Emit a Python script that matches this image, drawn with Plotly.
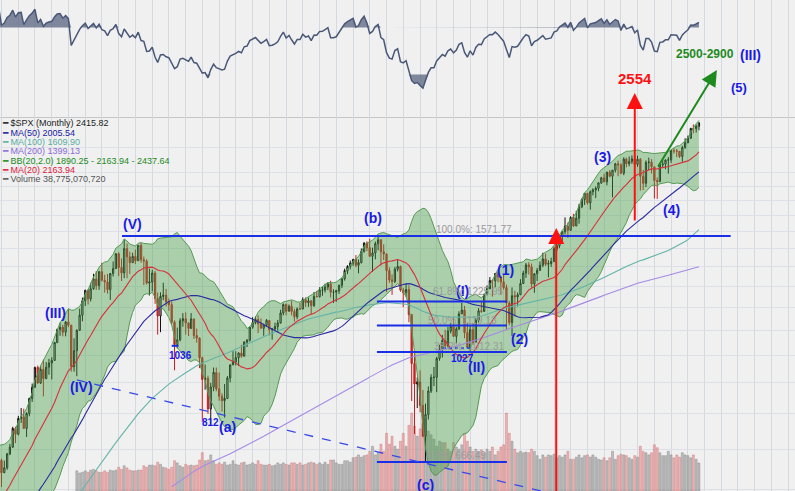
import math
import numpy as np
import pandas as pd
import plotly.graph_objects as go

# ---------------- data ----------------
# monthly closes before the visible window (Jan 1985 - May 1996), used for indicator warm-up
pre_close = [
    179.6, 181.2, 180.7, 179.8, 189.6, 191.9, 190.9, 188.6, 182.1, 189.8, 202.2, 211.3,
    211.8, 226.9, 238.9, 235.5, 247.4, 250.8, 236.1, 252.9, 231.3, 244.0, 249.2, 242.2,
    274.1, 284.2, 291.7, 288.4, 290.1, 304.0, 318.7, 329.8, 321.8, 251.8, 230.3, 247.1,
    257.1, 267.8, 258.9, 261.3, 262.2, 273.5, 272.0, 261.5, 271.9, 279.0, 273.7, 277.7,
    297.5, 288.9, 294.9, 309.6, 320.5, 318.0, 346.1, 351.5, 349.2, 340.4, 346.0, 353.4,
    329.1, 331.9, 339.9, 330.8, 361.2, 358.0, 356.2, 322.6, 306.1, 304.0, 322.2, 330.2,
    343.9, 367.1, 375.2, 375.3, 389.8, 371.2, 387.8, 395.4, 387.9, 392.5, 375.2, 417.1,
    408.8, 412.7, 403.7, 415.0, 415.4, 408.1, 424.2, 414.0, 417.8, 418.7, 431.4, 435.7,
    438.8, 443.4, 451.7, 440.2, 450.2, 450.5, 448.1, 463.6, 458.9, 467.8, 461.8, 466.5,
    481.6, 467.1, 445.8, 450.9, 456.5, 444.3, 458.3, 475.5, 462.7, 472.4, 453.7, 459.3,
    470.4, 487.4, 500.7, 514.7, 533.4, 544.8, 562.1, 561.9, 584.4, 581.5, 605.4, 615.9,
    636.0, 640.4, 645.5, 654.2, 669.1,
]

# visible months Jun 1996 - May 2017
close = [
    670.63, 639.95, 651.99, 687.33, 705.27, 757.02, 740.74,
    786.16, 790.82, 757.12, 801.34, 848.28, 885.14, 954.29, 899.47, 947.28, 914.62, 955.40, 970.43,
    980.28, 1049.34, 1101.75, 1111.75, 1090.82, 1133.84, 1120.67, 957.28, 1017.01, 1098.67, 1163.63, 1229.23,
    1279.64, 1238.33, 1286.37, 1335.18, 1301.84, 1372.71, 1328.72, 1320.41, 1282.71, 1362.93, 1388.91, 1469.25,
    1394.46, 1366.42, 1498.58, 1452.43, 1420.60, 1454.60, 1430.83, 1517.68, 1436.51, 1429.40, 1314.95, 1320.28,
    1366.01, 1239.94, 1160.33, 1249.46, 1255.82, 1224.42, 1211.23, 1133.58, 1040.94, 1059.78, 1139.45, 1148.08,
    1130.20, 1106.73, 1147.39, 1076.92, 1067.14, 989.82, 911.62, 916.07, 815.28, 885.76, 936.31, 879.82,
    855.70, 841.15, 848.18, 916.92, 963.59, 974.50, 990.31, 1008.01, 995.97, 1050.71, 1058.20, 1111.92,
    1131.13, 1144.94, 1126.21, 1107.30, 1120.68, 1140.84, 1101.72, 1104.24, 1114.58, 1130.20, 1173.82, 1211.92,
    1181.27, 1203.60, 1180.59, 1156.85, 1191.50, 1191.33, 1234.18, 1220.33, 1228.81, 1207.01, 1249.48, 1248.29,
    1280.08, 1280.66, 1294.83, 1310.61, 1270.09, 1270.20, 1276.66, 1303.82, 1335.85, 1377.94, 1400.63, 1418.30,
    1438.24, 1406.82, 1420.86, 1482.37, 1530.62, 1503.35, 1455.27, 1473.99, 1526.75, 1549.38, 1481.14, 1468.36,
    1378.55, 1330.63, 1322.70, 1385.59, 1400.38, 1280.00, 1267.38, 1282.83, 1166.36, 968.75, 896.24, 903.25,
    825.88, 735.09, 797.87, 872.81, 919.14, 919.32, 987.48, 1020.62, 1057.08, 1036.19, 1095.63, 1115.10,
    1073.87, 1104.49, 1169.43, 1186.69, 1089.41, 1030.71, 1101.60, 1049.33, 1141.20, 1183.26, 1180.55, 1257.64,
    1286.12, 1327.22, 1325.83, 1363.61, 1345.20, 1320.64, 1292.28, 1218.89, 1131.42, 1253.30, 1246.96, 1257.60,
    1312.41, 1365.68, 1408.47, 1397.91, 1310.33, 1362.16, 1379.32, 1406.58, 1440.67, 1412.16, 1416.18, 1426.19,
    1498.11, 1514.68, 1569.19, 1597.57, 1630.74, 1606.28, 1685.73, 1632.97, 1681.55, 1756.54, 1805.81, 1848.36,
    1782.59, 1859.45, 1872.34, 1883.95, 1923.57, 1960.23, 1930.67, 2003.37, 1972.29, 2018.05, 2067.56, 2058.90,
    1994.99, 2104.50, 2067.89, 2085.51, 2107.39, 2063.11, 2103.84, 1972.18, 1920.03, 2079.36, 2080.41, 2043.94,
    1940.24, 1932.23, 2059.74, 2065.30, 2096.95, 2098.86, 2173.60, 2170.95, 2168.27, 2126.15, 2198.81, 2238.83,
    2278.87, 2363.64, 2362.72, 2384.20, 2415.82,
]
high = [
    673, 675, 670, 690, 714, 762, 762,
    794, 818, 816, 805, 851, 898, 957, 961, 960, 983, 974, 986,
    992, 1051, 1106, 1131, 1122, 1138, 1190, 1121, 1066, 1103, 1193, 1244,
    1280, 1284, 1316, 1362, 1376, 1377, 1420, 1357, 1361, 1366, 1427, 1473,
    1478, 1444, 1553, 1528, 1481, 1475, 1493, 1518, 1530, 1454, 1439, 1389,
    1383, 1377, 1268, 1269, 1316, 1286, 1240, 1226, 1141, 1110, 1151, 1173,
    1176, 1130, 1173, 1147, 1106, 1070, 994, 965, 925, 900, 954, 954,
    936, 865, 896, 924, 965, 1015, 1015, 1011, 1040, 1054, 1063, 1112,
    1155, 1159, 1163, 1150, 1127, 1147, 1141, 1109, 1131, 1143, 1188, 1217,
    1217, 1212, 1229, 1192, 1199, 1219, 1245, 1245, 1244, 1233, 1271, 1276,
    1294, 1297, 1311, 1319, 1326, 1284, 1282, 1306, 1340, 1389, 1407, 1432,
    1441, 1462, 1438, 1499, 1535, 1540, 1556, 1504, 1539, 1576, 1553, 1523,
    1471, 1396, 1359, 1397, 1440, 1405, 1292, 1313, 1303, 1167, 1007, 919,
    944, 876, 832, 888, 930, 956, 993, 1040, 1080, 1101, 1113, 1130,
    1150, 1112, 1181, 1220, 1206, 1131, 1120, 1130, 1151, 1196, 1228, 1263,
    1303, 1345, 1333, 1365, 1371, 1347, 1357, 1307, 1229, 1293, 1277, 1269,
    1334, 1378, 1419, 1423, 1416, 1363, 1392, 1427, 1475, 1470, 1434, 1448,
    1510, 1530, 1570, 1598, 1687, 1654, 1694, 1710, 1730, 1776, 1814, 1849,
    1851, 1868, 1884, 1897, 1926, 1968, 1991, 2005, 2019, 2019, 2075, 2093,
    2072, 2120, 2117, 2126, 2135, 2130, 2133, 2113, 2021, 2094, 2117, 2105,
    2044, 1963, 2073, 2112, 2103, 2121, 2178, 2194, 2188, 2170, 2214, 2278,
    2301, 2371, 2401, 2399, 2418,
]
low = [
    658, 606, 639, 647, 684, 703, 716,
    737, 773, 756, 733, 793, 837, 884, 897, 896, 855, 913, 928,
    912, 979, 1046, 1076, 1074, 1074, 1112, 939, 939, 923, 1097, 1137,
    1205, 1212, 1226, 1282, 1281, 1281, 1323, 1268, 1263, 1233, 1348, 1387,
    1350, 1325, 1339, 1339, 1361, 1420, 1413, 1430, 1420, 1305, 1307, 1254,
    1274, 1215, 1081, 1091, 1232, 1203, 1183, 1124, 944, 1026, 1054, 1114,
    1081, 1075, 1106, 1063, 1048, 952, 776, 877, 800, 768, 872, 872,
    841, 807, 789, 847, 902, 963, 962, 960, 990, 995, 1031, 1053,
    1105, 1124, 1087, 1107, 1076, 1113, 1078, 1060, 1099, 1090, 1127, 1163,
    1163, 1180, 1163, 1136, 1146, 1188, 1191, 1201, 1201, 1168, 1201, 1246,
    1245, 1253, 1268, 1280, 1245, 1219, 1224, 1261, 1290, 1327, 1360, 1385,
    1403, 1396, 1364, 1416, 1476, 1484, 1454, 1371, 1439, 1489, 1406, 1435,
    1271, 1316, 1257, 1315, 1374, 1272, 1200, 1248, 1133, 840, 741, 818,
    805, 734, 667, 783, 866, 889, 869, 979, 991, 1030, 1029, 1086,
    1071, 1045, 1101, 1170, 1066, 1029, 1011, 1040, 1048, 1132, 1174, 1187,
    1257, 1303, 1249, 1295, 1318, 1258, 1282, 1101, 1120, 1075, 1158, 1203,
    1258, 1312, 1341, 1358, 1292, 1267, 1325, 1378, 1396, 1403, 1343, 1398,
    1426, 1485, 1501, 1536, 1581, 1560, 1605, 1627, 1633, 1647, 1747, 1768,
    1771, 1737, 1834, 1815, 1863, 1915, 1930, 1905, 1964, 1821, 2001, 1972,
    1988, 1980, 2040, 2048, 2067, 2056, 2044, 1867, 1872, 1893, 2019, 1993,
    1812, 1810, 1937, 2039, 2025, 1992, 2075, 2148, 2120, 2114, 2084, 2188,
    2245, 2271, 2322, 2328, 2348,
]
# monthly volume (billions), Oct 1998 - May 2017
volume = [
    28, 25, 26,
    28, 26, 29, 30, 28, 26, 26, 28, 26, 29, 28, 29,
    33, 30, 35, 32, 29, 28, 28, 29, 29, 35, 33, 36,
    36, 35, 40, 37, 33, 32, 30, 33, 42, 39, 35, 33,
    37, 35, 36, 35, 36, 43, 53, 42, 43, 50, 42, 37,
    39, 37, 40, 36, 37, 42, 37, 36, 39, 40, 36, 37,
    39, 37, 42, 37, 36, 36, 37, 35, 36, 39, 37, 39,
    37, 36, 39, 39, 37, 39, 36, 37, 39, 40, 39, 37,
    39, 37, 40, 37, 43, 43, 39, 37, 37, 42, 42, 40,
    46, 47, 50, 47, 49, 50, 55, 62, 50, 53, 65, 55,
    80, 65, 76, 62, 58, 69, 80, 62, 91, 108, 90, 76,
    86, 94, 100, 83, 78, 72, 62, 69, 67, 67, 58, 55,
    67, 61, 58, 64, 80, 69, 61, 55, 58, 55, 57, 53,
    58, 55, 61, 50, 55, 61, 64, 108, 80, 69, 58, 53,
    55, 53, 54, 53, 58, 55, 49, 44, 50, 47, 50, 49,
    51, 46, 49, 47, 50, 55, 44, 44, 47, 50, 46, 49,
    50, 47, 50, 47, 44, 43, 46, 42, 46, 55, 44, 49,
    51, 50, 49, 46, 44, 49, 47, 62, 55, 53, 50, 53,
    64, 60, 53, 49, 49, 55, 50, 46, 50, 47, 53, 50,
    49, 46, 50, 44, 38.8,
]

legend_lines = [
    ("$SPX (Monthly) 2415.82", "#222222"),
    ("MA(50) 2005.54", "#2020a0"),
    ("MA(100) 1609.90", "#5aaea0"),
    ("MA(200) 1399.13", "#8a6ad8"),
    ("BB(20,2.0) 1890.25 - 2163.94 - 2437.64", "#218a21"),
    ("MA(20) 2163.94", "#e0203c"),
    ("Volume 38,775,070,720", "#555555"),
]

fib_levels = [1571.77, 1225.95, 1119.13, 1012.31, 666.49]
fib_texts = ["100.0%: 1571.77", "61.8%: 1225.95", "50.0%: 1119.13", "38.2%: 1012.31", "0.0%: 666.49"]

# ---------------- derived series ----------------
n_pre = len(pre_close)
dates = pd.date_range("1996-06-01", periods=len(close), freq="MS")
full = pd.Series(pre_close + close, dtype=float)
opens = [pre_close[-1]] + close[:-1]

def sma(n):
    return full.rolling(n).mean().iloc[n_pre:].values

ma20 = sma(20)
ma50 = sma(50)
ma100 = sma(100)
ma200 = sma(200)
sd20 = full.rolling(20).std(ddof=0).iloc[n_pre:].values
bb_up = ma20 + 2 * sd20
bb_lo = ma20 - 2 * sd20

# RSI(14), Wilder smoothing
d = np.diff(np.array(pre_close + close, dtype=float))
g = np.where(d > 0, d, 0.0)
l = np.where(d < 0, -d, 0.0)
ag = g[:14].mean(); al = l[:14].mean()
rsi_full = [np.nan] * 15
for i in range(14, len(d)):
    ag = (ag * 13 + g[i]) / 14
    al = (al * 13 + l[i]) / 14
    rsi_full.append(100 - 100 / (1 + ag / al))
rsi = np.array(rsi_full)[n_pre:]

vdates = pd.date_range("1998-10-01", periods=len(volume), freq="MS")
vclose = close[-len(volume):]
vprev = close[-len(volume) - 1:-1]
vcol = ["rgba(232,140,140,0.6)" if c < p else "rgba(160,160,160,0.65)" for c, p in zip(vclose, vprev)]
vline = ["rgba(200,100,100,0.6)" if c < p else "rgba(120,120,120,0.6)" for c, p in zip(vclose, vprev)]

# ---------------- figure ----------------
L = math.log10
fig = go.Figure()

# volume on base axis (drawn underneath)
fig.add_trace(go.Bar(x=vdates, y=volume, marker=dict(color=vcol, line=dict(color=vline, width=0.6)),
                     width=22 * 86400000, yaxis="y", xaxis="x", hoverinfo="skip"))

# RSI panel
fig.add_trace(go.Scatter(x=dates, y=[70] * len(dates), yaxis="y2", mode="lines",
                         line=dict(width=0), hoverinfo="skip"))
fig.add_trace(go.Scatter(x=dates, y=np.maximum(rsi, 70), yaxis="y2", mode="lines", fill="tonexty",
                         fillcolor="rgba(90,100,130,0.75)", line=dict(width=0), hoverinfo="skip"))
fig.add_trace(go.Scatter(x=dates, y=[30] * len(dates), yaxis="y2", mode="lines",
                         line=dict(width=0), hoverinfo="skip"))
fig.add_trace(go.Scatter(x=dates, y=np.minimum(rsi, 30), yaxis="y2", mode="lines", fill="tonexty",
                         fillcolor="rgba(90,100,130,0.75)", line=dict(width=0), hoverinfo="skip"))
fig.add_trace(go.Scatter(x=dates, y=rsi, yaxis="y2", mode="lines",
                         line=dict(color="#4a5878", width=1.5), hoverinfo="skip"))

# Bollinger band
fig.add_trace(go.Scatter(x=dates, y=bb_up, yaxis="y3", mode="lines",
                         line=dict(color="#559a55", width=1), hoverinfo="skip"))
fig.add_trace(go.Scatter(x=dates, y=bb_lo, yaxis="y3", mode="lines", fill="tonexty",
                         fillcolor="rgba(70,160,70,0.41)", line=dict(color="#559a55", width=1),
                         hoverinfo="skip"))
# moving averages
for ser, col in [(ma200, "#a58ae6"), (ma100, "#64b4a8"), (ma50, "#2a2aa0"), (ma20, "#d8303c")]:
    fig.add_trace(go.Scatter(x=dates, y=ser, yaxis="y3", mode="lines",
                             line=dict(color=col, width=1.1), hoverinfo="skip"))

# fib / support lines
fib_x0 = ["2000-02-06"] + ["2007-09-18"] * 4
fib_x1 = ["2018-04-12"] + ["2011-08-06"] * 4
for lv, a, b in zip(fib_levels, fib_x0, fib_x1):
    fig.add_trace(go.Scatter(x=[a, b], y=[lv, lv], yaxis="y3", mode="lines",
                             line=dict(color="#1a2ee6", width=2), hoverinfo="skip"))
# small marks at 1036 and 1027
fig.add_trace(go.Scatter(x=["2001-08-01", "2001-10-15"], y=[1036, 1036], yaxis="y3", mode="lines",
                         line=dict(color="#1a2ee6", width=2), hoverinfo="skip"))
fig.add_trace(go.Scatter(x=["2009-09-06", "2010-07-31"], y=[1027, 1027], yaxis="y3", mode="lines",
                         line=dict(color="#1a2ee6", width=1.5, dash="dot"), hoverinfo="skip"))
# dashed trend line
fig.add_trace(go.Scatter(x=["1998-10-01", "2014-05-15"], y=[910, 566], yaxis="y3", mode="lines",
                         line=dict(color="#3a4ae8", width=1.3, dash="dash"), hoverinfo="skip"))

# candles
fig.add_trace(go.Candlestick(x=dates, open=opens, high=high, low=low, close=close, yaxis="y3",
                             increasing=dict(line=dict(color="#111111", width=1), fillcolor="rgba(0,0,0,0)"),
                             decreasing=dict(line=dict(color="#c81e1e", width=1), fillcolor="#d02828"),
                             whiskerwidth=0, hoverinfo="skip"))

# ---------------- layout ----------------
W, H = 795, 491
rsi_bottom_px = 117
rsi_dom0 = 1 - rsi_bottom_px / H
px_per_rsi = 23.5 / 20
rsi_hi = 50 + 51 / px_per_rsi
rsi_lo = 50 - (rsi_bottom_px - 51) / px_per_rsi

# log price axis: 666.49 at y=462, 263.4 px per ln unit
k10 = 263.4 * math.log(10)
y_lo = L(666.49) - (H - 462) / k10
y_hi = L(666.49) + 462 / k10

price_grid = [600, 700, 800, 900, 1000, 1100, 1200, 1300, 1400, 1500, 1600, 1700, 1800, 1900, 2000, 2200]

fig.update_layout(
    width=W, height=H, margin=dict(l=0, r=0, t=0, b=0),
    paper_bgcolor="#f0f0f0", plot_bgcolor="#f0f0f0", showlegend=False,
    xaxis=dict(type="date", range=["1996-06-15", "2020-03-14"], showticklabels=False,
               showgrid=True, gridcolor="#d5d9e0", gridwidth=1, dtick="M6", tick0="1997-01-01",
               zeroline=False, rangeslider=dict(visible=False), fixedrange=True),
    yaxis=dict(domain=[0, 1], range=[0, H * 1.386], showgrid=False, showticklabels=False,
               zeroline=False),
    yaxis2=dict(domain=[rsi_dom0, 1], range=[rsi_lo, rsi_hi], anchor="x", showgrid=False,
                showticklabels=False, zeroline=False),
    yaxis3=dict(type="log", overlaying="y", range=[y_lo, y_hi], showticklabels=False,
                tickvals=price_grid, showgrid=True, gridcolor="#dde0e6", zeroline=False),
)

# RSI reference lines and panel separator
for v, dash, col in [(70, "solid", "#8c8c8c"), (50, "dashdot", "#a8a8a8"), (30, "solid", "#8c8c8c")]:
    fig.add_shape(type="line", xref="paper", x0=0, x1=1, yref="y2", y0=v, y1=v,
                  line=dict(color=col, width=1.2, dash=dash), layer="below")
fig.add_shape(type="line", xref="paper", x0=0, x1=1, yref="paper", y0=rsi_dom0, y1=rsi_dom0,
              line=dict(color="#9a9a9a", width=1.2), layer="below")

# arrows
arrows = [
    ("2013-01-25", 560, "2013-01-25", 1620, "#ff1010", 2),
    ("2015-06-01", 1658, "2015-06-01", 2706, "#ff1010", 2),
    ("2016-02-01", 2035, "2017-11-13", 2953, "#1e8a1e", 2),
]
for x0, p0, x1, p1, col, w in arrows:
    fig.add_annotation(x=x1, y=L(p1), ax=x0, ay=L(p0), xref="x", yref="y3", axref="x", ayref="y3",
                       showarrow=True, arrowhead=2, arrowsize=1.6, arrowwidth=w, arrowcolor=col, text="")

blue = "#1a1ae6"
wave_labels = [
    ("(V)", "2000-06-01", 1645, 14), ("(III)", "1998-02-05", 1174, 14), ("(IV)", "1998-11-25", 886, 14),
    ("(a)", "2003-04-04", 761, 14), ("(b)", "2007-08-04", 1683, 14), ("(c)", "2009-03-04", 611, 14),
    ("(I)", "2010-04-13", 1276, 14), ("(II)", "2010-09-13", 956, 14), ("(1)", "2011-07-25", 1381, 14),
    ("(2)", "2011-12-25", 1063, 14), ("(3)", "2014-06-18", 2121, 14), ("(4)", "2016-07-10", 1735, 14),
    ("(5)", "2018-07-10", 2767, 13), ("(III)", "2018-11-18", 3124, 14),
    ("1036", "2001-11-10", 1000, 10), ("812", "2002-10-01", 773, 10), ("1027", "2010-04-13", 989, 10),
]
for t, x, p, s in wave_labels:
    fig.add_annotation(x=x, y=L(p), xref="x", yref="y3", text=t, showarrow=False,
                       font=dict(family="Liberation Sans, Arial", size=s, color=blue, weight="bold"))

fig.add_annotation(x="2015-06-01", y=L(2853), xref="x", yref="y3", text="2554", showarrow=False,
                   font=dict(family="Liberation Sans, Arial", size=15, color="#ff1010", weight="bold"))
fig.add_annotation(x="2017-07-01", y=L(3137), xref="x", yref="y3", text="2500-2900", showarrow=False,
                   font=dict(family="Liberation Sans, Arial", size=12, color="#1e8a1e", weight="bold"))

fib_lab_x = ["2010-08-10", "2010-06-05", "2010-04-13", "2010-06-20", "2010-02-05"]
fib_lab_p = [1614, 1271, 1142, 1035, 682]
for t, x, p in zip(fib_texts, fib_lab_x, fib_lab_p):
    fig.add_annotation(x=x, y=L(p), xref="x", yref="y3", text=t, showarrow=False,
                       font=dict(family="Liberation Sans, Arial", size=10, color="#9a9a9a"))

for i, (t, col) in enumerate(legend_lines):
    ypx = 123.3 + i * 9.3
    fig.add_annotation(x=0, y=1 - ypx / H, xref="paper", yref="paper", xanchor="left", yanchor="middle",
                       text="\u2501 " + t, showarrow=False,
                       font=dict(family="Liberation Sans, Arial", size=9, color=col))

fig.write_html("out.html")
